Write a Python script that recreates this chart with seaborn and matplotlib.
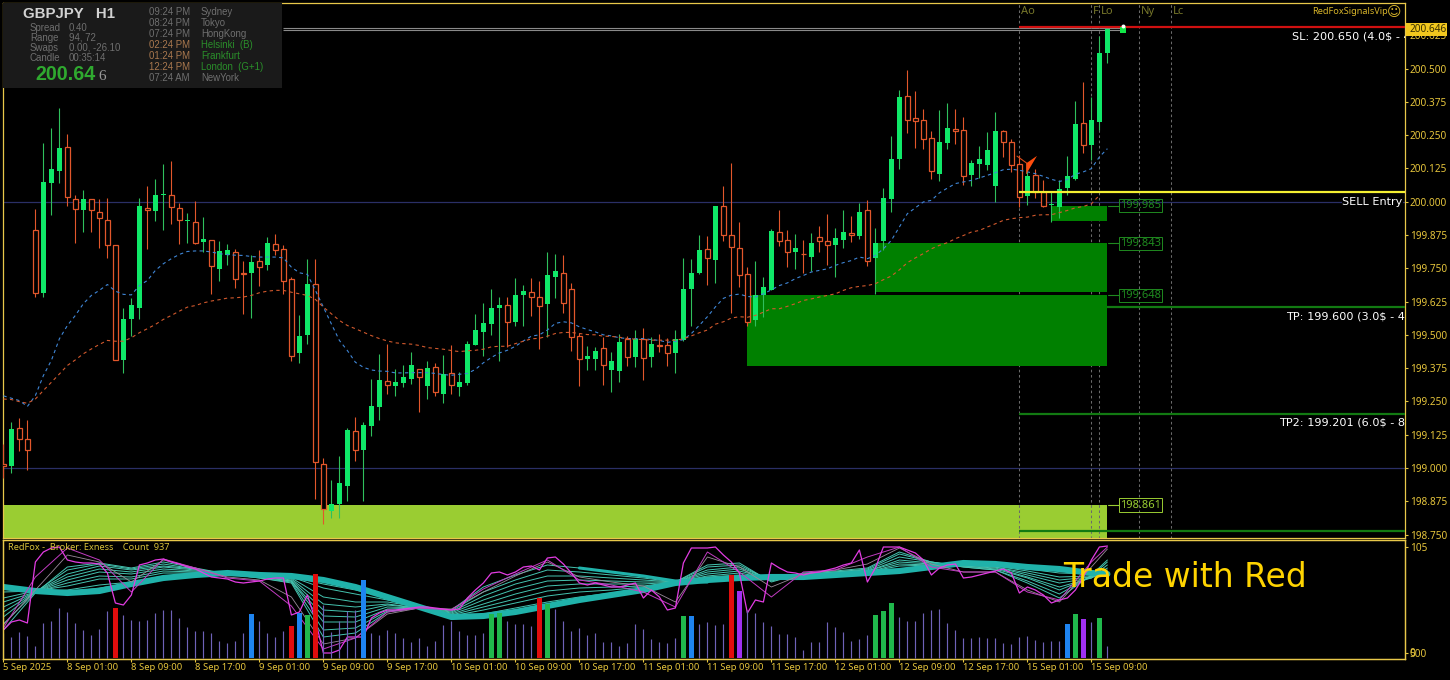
import numpy as np
import matplotlib
matplotlib.use("Agg")
import matplotlib.pyplot as plt
from matplotlib.patches import Rectangle, Polygon
from matplotlib.transforms import ScaledTranslation
import seaborn as sns

# candles, one value per hour bar
opens = [199.015,199.009,199.150,199.109,199.892,199.657,200.070,200.115,200.204,200.011,
         199.969,200.009,199.962,199.932,199.836,199.405,199.559,199.599,199.977,199.964,
         200.026,200.026,199.977,199.927,199.925,199.847,199.857,199.746,199.800,199.812,
         199.733,199.731,199.778,199.761,199.842,199.823,199.708,199.430,199.498,199.689,
         199.015,198.837,198.866,198.934,199.140,199.069,199.159,199.229,199.325,199.307,
         199.318,199.333,199.371,199.307,199.379,199.277,199.356,199.303,199.318,199.461,
         199.510,199.540,199.600,199.612,199.548,199.649,199.660,199.642,199.615,199.717,
         199.732,199.672,199.495,199.409,199.409,199.450,199.367,199.363,199.484,199.416,
         199.486,199.416,199.461,199.461,199.431,199.480,199.672,199.732,199.822,199.781,
         199.984,199.875,199.826,199.729,199.554,199.648,199.669,199.888,199.855,199.810,
         199.805,199.794,199.868,199.853,199.836,199.855,199.883,199.870,199.967,199.787,
         199.851,200.009,200.159,200.395,200.313,200.308,200.238,200.103,200.219,200.272,
         200.268,200.099,200.140,200.137,200.058,200.264,200.223,200.140,200.020,200.099,
         200.035,199.986,199.979,200.050,200.084,200.294,200.212,200.298,200.558]
highs = [199.090,199.171,199.186,199.182,199.971,200.219,200.276,200.351,200.253,200.024,
         200.043,200.011,200.011,200.013,199.836,199.602,199.640,200.013,200.058,200.084,
         200.140,200.152,199.994,199.956,200.001,199.941,199.857,199.851,199.842,199.821,
         199.776,199.798,199.817,199.866,199.877,199.838,199.718,199.576,199.783,199.783,
         199.039,198.956,199.046,199.152,199.193,199.174,199.335,199.427,199.465,199.373,
         199.386,199.435,199.371,199.401,199.394,199.424,199.461,199.360,199.476,199.580,
         199.619,199.672,199.642,199.642,199.713,199.687,199.713,199.702,199.811,199.803,
         199.800,199.694,199.506,199.457,199.454,199.491,199.435,199.503,199.495,199.518,
         199.525,199.491,199.503,199.487,199.518,199.788,199.784,199.875,199.871,199.984,
         200.059,200.145,199.924,199.754,199.776,199.716,199.899,199.967,199.892,199.877,
         199.855,199.883,199.907,199.952,199.900,199.967,199.945,199.994,200.005,199.900,
         200.050,200.246,200.419,200.494,200.415,200.347,200.264,200.343,200.370,200.347,
         200.317,200.155,200.208,200.261,200.336,200.268,200.234,200.174,200.118,200.122,
         200.080,200.035,200.080,200.170,200.377,200.449,200.392,200.622,200.650]
lows = [198.963,198.983,199.063,198.991,199.642,199.642,199.949,200.069,199.982,199.843,
        199.888,199.885,199.825,199.787,199.405,199.358,199.496,199.558,199.821,199.926,
        199.892,199.915,199.840,199.843,199.842,199.810,199.655,199.701,199.761,199.674,
        199.580,199.565,199.685,199.742,199.798,199.655,199.400,199.396,199.467,198.885,
        198.790,198.812,198.812,198.877,199.028,198.877,199.122,199.179,199.277,199.269,
        199.303,199.315,199.209,199.258,199.269,199.243,199.277,199.269,199.311,199.461,
        199.420,199.499,199.401,199.454,199.533,199.533,199.570,199.446,199.491,199.638,
        199.581,199.439,199.307,199.367,199.367,199.311,199.285,199.322,199.382,199.379,
        199.330,199.379,199.435,199.382,199.356,199.478,199.533,199.730,199.687,199.694,
        199.852,199.581,199.679,199.535,199.535,199.566,199.667,199.832,199.754,199.746,
        199.734,199.738,199.810,199.764,199.719,199.825,199.847,199.858,199.757,199.655,
        199.817,199.960,200.122,200.257,200.200,200.197,200.084,200.076,200.197,200.216,
        200.061,200.058,200.088,200.118,199.997,200.167,200.110,199.979,199.986,200.013,
        199.979,199.924,199.937,200.024,200.080,200.182,200.155,200.268,200.520]
closes = [199.006,199.147,199.108,199.067,199.657,200.073,200.122,200.200,200.018,199.972,
          200.009,199.969,199.940,199.837,199.405,199.558,199.610,199.982,199.970,200.024,
          200.029,199.980,199.931,199.930,199.846,199.857,199.758,199.812,199.818,199.709,
          199.728,199.771,199.756,199.842,199.818,199.701,199.422,199.494,199.689,199.021,
          198.845,198.865,198.944,199.140,199.067,199.159,199.231,199.330,199.312,199.322,
          199.341,199.386,199.342,199.375,199.285,199.352,199.311,199.322,199.465,199.518,
          199.544,199.600,199.612,199.548,199.649,199.664,199.642,199.608,199.724,199.739,
          199.619,199.490,199.409,199.420,199.439,199.386,199.401,199.472,199.415,199.484,
          199.412,199.465,199.457,199.431,199.484,199.672,199.732,199.818,199.788,199.984,
          199.875,199.830,199.724,199.550,199.648,199.677,199.888,199.852,199.810,199.825,
          199.802,199.843,199.852,199.837,199.861,199.885,199.875,199.962,199.779,199.842,
          200.013,200.159,200.392,200.306,200.304,200.234,200.114,200.223,200.276,200.266,
          200.095,200.144,200.159,200.193,200.264,200.224,200.137,200.016,200.095,200.036,
          199.982,199.990,200.046,200.095,200.291,200.212,200.306,200.558,200.647]

# the two dashed moving averages
ma_blue = [199.271,199.262,199.253,199.231,199.272,199.347,199.404,199.485,199.535,199.573,
           199.617,199.648,199.667,199.689,199.664,199.652,199.650,199.685,199.704,199.742,
           199.767,199.786,199.802,199.813,199.815,199.815,199.811,199.805,199.801,199.799,
           199.798,199.794,199.792,199.792,199.792,199.789,199.754,199.733,199.727,199.667,
           199.604,199.541,199.479,199.441,199.397,199.378,199.368,199.364,199.363,199.357,
           199.357,199.358,199.358,199.358,199.355,199.351,199.348,199.352,199.355,199.370,
           199.395,199.415,199.432,199.442,199.457,199.477,199.495,199.500,199.518,199.543,
           199.549,199.545,199.530,199.520,199.511,199.500,199.496,199.489,199.486,199.486,
           199.486,199.482,199.479,199.472,199.475,199.482,199.505,199.536,199.568,199.605,
           199.637,199.649,199.653,199.644,199.642,199.654,199.669,199.685,199.695,199.711,
           199.723,199.736,199.742,199.748,199.761,199.771,199.779,199.792,199.786,199.798,
           199.823,199.855,199.905,199.955,199.977,199.999,200.005,200.033,200.051,200.068,
           200.074,200.080,200.089,200.099,200.109,200.120,200.122,200.118,200.112,200.105,
           200.095,200.084,200.076,200.083,200.103,200.112,200.124,200.168,200.199]
ma_orange = [199.259,199.257,199.249,199.243,199.259,199.291,199.322,199.353,199.385,199.406,
             199.429,199.447,199.464,199.479,199.476,199.476,199.489,199.508,199.523,199.539,
             199.558,199.573,199.589,199.604,199.610,199.620,199.627,199.632,199.638,199.639,
             199.642,199.648,199.658,199.664,199.667,199.667,199.660,199.654,199.648,199.633,
             199.604,199.579,199.554,199.535,199.523,199.510,199.497,199.486,199.477,199.470,
             199.467,199.465,199.460,199.452,199.449,199.446,199.441,199.437,199.440,199.442,
             199.446,199.455,199.457,199.457,199.467,199.476,199.485,199.487,199.495,199.505,
             199.509,199.509,199.505,199.501,199.500,199.495,199.494,199.491,199.486,199.484,
             199.482,199.480,199.480,199.480,199.480,199.485,199.496,199.508,199.518,199.540,
             199.549,199.563,199.568,199.566,199.573,199.585,199.598,199.598,199.607,199.617,
             199.629,199.635,199.642,199.648,199.654,199.667,199.677,199.682,199.685,199.692,
             199.707,199.721,199.744,199.771,199.789,199.805,199.823,199.836,199.846,199.861,
             199.873,199.886,199.892,199.905,199.917,199.930,199.936,199.940,199.942,199.949,
             199.951,199.951,199.959,199.967,199.977,199.982,199.992,200.024]

# volume pane
volumes = [247,213,263,220,120,347,370,497,463,353,280,230,290,470,500,433,380,373,380,453,
           480,480,397,307,273,270,247,170,153,170,247,440,373,253,207,273,320,450,430,840,
           530,263,373,467,480,780,247,230,280,253,197,163,197,123,173,330,373,273,230,230,
           253,437,447,373,340,340,320,600,540,487,370,270,303,230,253,163,163,120,153,340,
           293,190,163,153,203,420,420,340,360,330,340,830,673,480,453,360,320,240,240,213,
           80,163,163,360,313,260,170,193,230,430,470,550,407,373,373,450,480,490,353,280,
           197,197,213,197,197,147,140,213,223,180,163,170,173,340,440,390,363,400,120]
vol_red = [14, 36, 39, 67, 91]
vol_blue = [31, 37, 45, 86, 133]
vol_green = [38, 61, 62, 68, 85, 109, 110, 111, 134, 137]
vol_purple = [92, 135]

# ribbon oscillator, fastest line read at every bar
fast_line = [22,30,32,29,90,100,104,105,92,90,89,89,88,79,49,47,57,87,89,92,93,90,88,85,83,79,
             75,74,73,70,69,70,71,73,74,74,37,40,57,32,-1,-1,2,15,15,15,34,39,42,42,43,44,45,
             45,44,43,42,43,54,62,69,79,80,77,80,85,86,82,94,95,88,79,69,67,69,67,65,65,67,69,
             54,62,55,42,44,89,104,104,104,105,97,90,79,39,52,50,89,84,80,79,77,79,80,82,84,87,
             89,102,70,84,105,105,105,102,99,92,77,84,87,88,74,75,77,79,81,83,79,59,65,62,57,
             49,52,54,62,75,92,105,106]
# the slower ribbon lines, read every fourth bar
rib_bars = [0,4,8,12,16,20,24,28,32,36,40,44,48,52,56,60,64,68,72,76,80,84,88,92,96,100,104,
            108,112,116,120,124,128,132,136,138]
rib_m2 = [27,62,97,90,70,92,84,75,72,55,8,14,38,44,43,60,76,90,75,70,66,50,95,85,65,78,82,88,
          104,88,80,80,62,50,85,103]
rib_m3 = [24,75,104,92,60,93,84,74,71,46,3,14,40,44,42,63,78,92,72,67,60,45,100,80,55,80,82,95,
          105,85,80,80,60,52,90,105]
rib_t1 = [22,59,85,89,84,90,84,78,74,69,15,19,40,44,42,65,77,87,84,80,76,70,87,89,70,79,81,84,
          100,90,85,82,69,54,77,92]
rib_t1b = [28,60,82,88,83,88,83,78,74,70,22,24,41,44,41,60,72,82,80,77,74,70,85,87,71,78,80,83,
           98,90,85,82,71,58,76,90]
rib_t2 = [35,60,78,86,82,86,83,78,75,71,30,30,43,44,40,56,68,76,76,74,72,70,82,85,72,77,80,82,
          95,90,86,83,74,62,75,87]
rib_t2b = [40,60,75,83,80,85,82,78,75,71,36,35,45,44,39,52,63,71,72,71,70,70,80,83,72,76,79,81,
           92,89,86,84,75,65,74,84]
rib_t3 = [45,60,72,80,78,83,81,78,76,72,42,40,47,44,38,48,58,66,68,68,68,70,78,81,73,76,79,81,
          90,88,87,85,77,69,74,82]
rib_t3b = [50,60,69,76,75,81,80,78,76,73,48,45,48,44,37,45,53,61,64,65,66,70,76,79,73,75,78,80,
           88,87,87,85,79,72,75,80]
rib_t4 = [54,61,66,73,73,79,79,78,76,74,55,50,50,45,36,42,49,56,60,62,65,70,75,77,74,75,78,80,
          86,87,88,86,81,75,76,79]
rib_t5 = [60,61,62,67,70,76,78,78,77,75,64,58,52,45,35,38,44,50,55,59,63,70,73,75,74,75,77,79,
          83,86,89,87,83,79,78,78]
rib_t5b = [63,61,60,64,69,75,77,78,77,75,68,62,54,45,35,37,42,48,53,58,62,69,72,74,74,75,77,79,
           82,85,89,88,84,81,78,78]
rib_band = [65,61,59,61,68,74,77,79,77,76,72,65,55,45,35,36,40,46,52,57,62,69,72,74,75,75,77,79,
            81,85,89,88,85,83,79,78]
upper_band_bars = [72,76,80,84,88]
upper_band = [84,80,76,71,70]

# axis text
price_ticks = [200.625,200.500,200.375,200.250,200.125,200.000,199.875,199.750,
               199.625,199.500,199.375,199.250,199.125,199.000,198.875,198.750]
time_bars = [0,8,16,24,32,40,48,56,64,72,80,88,96,104,112,120,128,136]
time_labels = ["5 Sep 2025","8 Sep 01:00","8 Sep 09:00","8 Sep 17:00","9 Sep 01:00","9 Sep 09:00",
               "9 Sep 17:00","10 Sep 01:00","10 Sep 09:00","10 Sep 17:00","11 Sep 01:00",
               "11 Sep 09:00","11 Sep 17:00","12 Sep 01:00","12 Sep 09:00","12 Sep 17:00",
               "15 Sep 01:00","15 Sep 09:00"]

# levels and zones
last_price = 200.646
stop_level = 200.657
entry_level = 200.036
tp1_level = 199.603
tp2_level = 199.203
tp3_level = 198.762
round_levels = [200.0, 199.0]
zone_left = [131, 109, 93, 0]
zone_tops = [199.985, 199.843, 199.648, 198.861]
zone_bottoms = [199.927, 199.660, 199.382, 198.70]
zone_text = ["199.985", "199.843", "199.648", "198.861"]
session_bars = [127, 136, 137, 142, 146]
session_names = ["Ao", "F", "Lo", "Ny", "Lc"]
session_times = ["09:24 PM","08:24 PM","07:24 PM","02:24 PM","01:24 PM","12:24 PM","07:24 AM"]
session_towns = ["Sydney","Tokyo","HongKong","Helsinki  (B)","Frankfurt","London  (G+1)","NewYork"]
info_names = ["Spread","Range","Swaps","Candle"]
info_values = ["0.40","94, 72","0.00, -26.10","00:35:14"]

GOLD = "#e8c84a"
TICK = "#e6c53c"
BULL = "#0fe868"
BEAR = "#e2572b"
W, H = 1450, 680


def fx(px):
    return px / W


def fy(py):
    return 1 - py / H


sns.set_theme(style="dark", rc={
    "figure.facecolor": "black", "axes.facecolor": "black", "axes.edgecolor": GOLD,
    "axes.linewidth": 0.9, "axes.grid": False, "text.color": "white",
})
plt.rcParams["font.family"] = ["Noto Sans", "DejaVu Sans"]

fig = plt.figure(figsize=(14.5, 6.8), dpi=100)
ax = fig.add_axes([fx(2.5), fy(537.5), fx(1402.5), (537.5 - 3) / H])
osc = fig.add_axes([fx(2.5), fy(659), fx(1402.5), (659 - 540) / H])

bars = np.arange(len(opens))
o, h, l, c = map(np.array, (opens, highs, lows, closes))
up = c >= o

# zones go under everything, session lines sit on the lime zone but under the green ones
for k in range(4):
    lime = k == 3
    ax.bar(zone_left[k], zone_tops[k] - zone_bottoms[k], bottom=zone_bottoms[k], width=138 - zone_left[k],
           align="edge", color="#9acd32" if lime else "#008000", linewidth=0, zorder=1 if lime else 2.2)
    col = "#9acd32" if lime else "#1f8a1f"
    ax.plot([138.1, 139.4], [zone_tops[k]] * 2, color=col, lw=0.8, zorder=5)
    ax.text(139.62, zone_tops[k], zone_text[k], color=col, fontsize=8, va="center", ha="left", zorder=6,
            bbox=dict(boxstyle="square,pad=0.1", fc="none", ec=col, lw=0.7))

ax.vlines(session_bars, 198.6, 200.8, color="#6a6a6a", lw=0.75, linestyles=(0, (2.5, 2.5)), zorder=2)
for b, name in zip(session_bars, session_names):
    ax.text(b + 0.2, 200.715, name, color="#77772a", fontsize=8, va="center", ha="left")

ax.hlines(round_levels, -1, 176, color="#2a2f66", lw=0.9, zorder=1.5)
ax.hlines([200.652, 200.646], 35, 140, color="#8a8a8a", lw=0.8, zorder=1.5)

# candles
ax.vlines(bars[up], l[up], h[up], color="#2fc05c", lw=0.8, zorder=3)
ax.vlines(bars[~up], l[~up], h[~up], color=BEAR, lw=0.8, zorder=3)
ax.bar(bars[up], (c - o)[up] + 0.001, bottom=o[up], width=0.62, color=BULL, linewidth=0, zorder=3.5)
ax.bar(bars[~up], (o - c)[~up], bottom=c[~up], width=0.55, facecolor="black", edgecolor=BEAR, linewidth=0.9, zorder=3.5)

# moving averages
sns.lineplot(x=np.arange(len(ma_blue)), y=ma_blue, color="#3f86d6", linewidth=0.8,
             linestyle=(0, (3, 3)), errorbar=None, ax=ax, zorder=4)
sns.lineplot(x=np.arange(len(ma_orange)), y=ma_orange, color="#d2592d", linewidth=0.8,
             linestyle=(0, (3, 3)), errorbar=None, ax=ax, zorder=4)

# trade levels
ax.hlines(stop_level, 127, 176, color="#d01010", lw=1.6, zorder=4.5)
ax.hlines(entry_level, 127, 176, color="#f5f032", lw=1.6, zorder=4.5)
ax.hlines(tp1_level, 138, 176, color="#127a12", lw=1.6, zorder=4.5)
ax.hlines([tp2_level, tp3_level], 127, 176, color="#127a12", lw=1.6, zorder=4.5)
ax.scatter([140], [last_price], s=22, marker="s", color="#12e848", linewidth=0, zorder=5)
ax.scatter([140], [last_price + 0.012], s=8, marker="o", color="white", linewidth=0, zorder=5)

# sell arrow
ax.add_patch(Polygon([[129.2, 200.172], [127.9, 200.145], [127.9, 200.106]], closed=True,
                     color="#ff4d0d", lw=0, zorder=6))
ax.plot([126.7, 127.9, 127.9], [200.171, 200.145, 200.106], color="#d84a18", lw=0.8, zorder=6)

for txt, px_x, level in [("SL: 200.650 (4.0$ - 4", 1292.5, 200.619),
                         ("TP: 199.600 (3.0$ - 4", 1286, 199.567),
                         ("TP2: 199.201 (6.0$ - 8", 1279, 199.169)]:
    ax.text((px_x - 3.4) / 8, level, txt, color="white", fontsize=8.1, family="DejaVu Sans", va="center",
            ha="left", clip_on=True, zorder=7)
ax.text(174.9, 200.0, "SELL Entry", color="white", fontsize=8.1, family="DejaVu Sans", va="center",
        ha="right", zorder=7, bbox=dict(fc="black", ec="none", pad=0.6))

ax.set_xlim(-0.11, 175.2)
ax.set_ylim(198.739, 200.746)
ax.set_xticks([])
ax.yaxis.tick_right()
ax.set_yticks(price_ticks)
ax.set_yticklabels([f"{t:.3f}" for t in price_ticks])
ax.tick_params(axis="y", colors=TICK, length=2.2, width=0.8, pad=1.2, labelsize=7.2, right=True)

# ribbon pane
for series in (rib_t1, rib_t1b, rib_t2, rib_t2b, rib_t3, rib_t3b, rib_t4, rib_t5, rib_t5b):
    sns.lineplot(x=rib_bars, y=series, color="#45c4b0", linewidth=0.7, errorbar=None, ax=osc, zorder=2)
sns.lineplot(x=rib_bars, y=rib_band, color="#20b2aa", linewidth=4.4, errorbar=None, ax=osc, zorder=2.2)
sns.lineplot(x=upper_band_bars, y=upper_band, color="#20b2aa", linewidth=2.2, errorbar=None, ax=osc, zorder=2.2)
sns.lineplot(x=rib_bars, y=rib_m2, color="#9a8a9a", linewidth=0.6, errorbar=None, ax=osc, zorder=2.5)
sns.lineplot(x=rib_bars, y=rib_m3, color="#c23cc2", linewidth=0.7, errorbar=None, ax=osc, zorder=2.6)
sns.lineplot(x=np.arange(len(fast_line)), y=fast_line, color="#e23ce2", linewidth=0.9, errorbar=None, ax=osc, zorder=3)
osc.set_xlim(-0.11, 175.2)
osc.set_ylim(-7, 112)

vol_ax = osc.twinx()
kinds = {}
for names, tag in ((vol_red, "red"), (vol_blue, "blue"), (vol_green, "green"), (vol_purple, "purple")):
    for b in names:
        kinds[b] = tag
thin = [b for b in range(len(volumes)) if b not in kinds]
thick = sorted(kinds)
# thin bars as 1px lines, they came out grey as very narrow patches
vol_ax.vlines(thin, 0, [volumes[b] for b in thin], color="#6e62b8", lw=0.85)
sns.barplot(x=thick, y=[volumes[b] for b in thick], hue=[kinds[b] for b in thick],
            palette={"red": "#e00d0d", "blue": "#1e84f0", "green": "#20b84c", "purple": "#a030f0"},
            dodge=False, width=0.62, native_scale=True, saturation=1, errorbar=None, linewidth=0,
            edgecolor="none", legend=False, ax=vol_ax)
vol_ax.set_xlim(-0.11, 175.2)
vol_ax.set_ylim(-10, 1180)
vol_ax.set_yticks([])
vol_ax.set_ylabel("")
vol_ax.spines[:].set_color(GOLD)

osc.set_xticks(time_bars)
osc.set_xticklabels(time_labels, ha="left")
for lab in osc.get_xticklabels():
    lab.set_transform(lab.get_transform() + ScaledTranslation(-1.4 / 100, 0, fig.dpi_scale_trans))
osc.yaxis.tick_right()
osc.set_yticks([105, -1])
osc.set_yticklabels(["105", "500"])
osc.tick_params(axis="y", colors=TICK, length=2.2, width=0.8, pad=1.2, labelsize=7.2, right=True)
osc.tick_params(axis="x", colors=TICK, length=2.2, width=0.8, pad=0.8, labelsize=6.8, bottom=True)

osc.text(0.56, 105, "RedFox -  Broker: Exness    Count  937", color="#d8c23a", fontsize=6.6,
         va="center", ha="left", zorder=8)
fig.text(fx(1409), fy(653), "0", color=TICK, fontsize=7.2, va="center", ha="left")
fig.text(fx(1063), fy(577.5), "Trade with Red", color="#ffd400", fontsize=23.7, family="DejaVu Sans",
         va="center", ha="left", zorder=9)

# price tag and signal name on the right
fig.add_artist(Rectangle((fx(1405.5), fy(35.5)), fx(41.5), 12.5 / H, transform=fig.transFigure,
                         facecolor="#f2c81e", edgecolor="none", zorder=5))
fig.text(fx(1409.5), fy(29.5), f"{last_price:.3f}", color="#3a3000", fontsize=7.2, va="center", ha="left", zorder=6)
fig.text(fx(1312), fy(12), "RedFoxSignalsVip", color="#d8b52a", fontsize=6.6, va="center", ha="left", zorder=6)
fig.text(fx(1387), fy(12), "\u263a", color="#d8b52a", fontsize=10, family="DejaVu Sans", va="center",
         ha="left", zorder=6)

# info panel
fig.add_artist(Rectangle((fx(3), fy(88)), fx(279), 85 / H, transform=fig.transFigure,
                         facecolor="#1a1a1a", edgecolor="none", zorder=5))
fig.text(fx(23), fy(13.5), "GBPJPY   H1", color="#d2d2d2", fontsize=10.8, fontweight="bold",
         family="Liberation Sans", va="center", ha="left", zorder=6)
for k in range(4):
    fig.text(fx(30), fy(28 + 10 * k), info_names[k], color="#6f6f6f", fontsize=6.9,
             family="Liberation Sans", va="center", ha="left", zorder=6)
    fig.text(fx(69), fy(28 + 10 * k), info_values[k], color="#6f6f6f", fontsize=6.9,
             family="Liberation Sans", va="center", ha="left", zorder=6)
fig.text(fx(35), fy(74.5), "200.64", color="#2fa92f", fontsize=14.2, fontweight="bold",
         family="Liberation Sans", va="center", ha="left", zorder=6)
fig.text(fx(98), fy(76), "6", color="#9a9a9a", fontsize=11, family="Liberation Serif", va="center",
         ha="left", zorder=6)
for k in range(7):
    active = 3 <= k <= 5
    fig.text(fx(149), fy(11.8 + 11 * k), session_times[k], color="#a9784e" if active else "#6f6f6f",
             fontsize=6.9, family="Liberation Sans", va="center", ha="left", zorder=6)
    fig.text(fx(201), fy(11.8 + 11 * k), session_towns[k], color="#2a8f2a" if active else "#6f6f6f",
             fontsize=6.9, family="Liberation Sans", va="center", ha="left", zorder=6)

fig.savefig("out.png", dpi=100, facecolor="black")
